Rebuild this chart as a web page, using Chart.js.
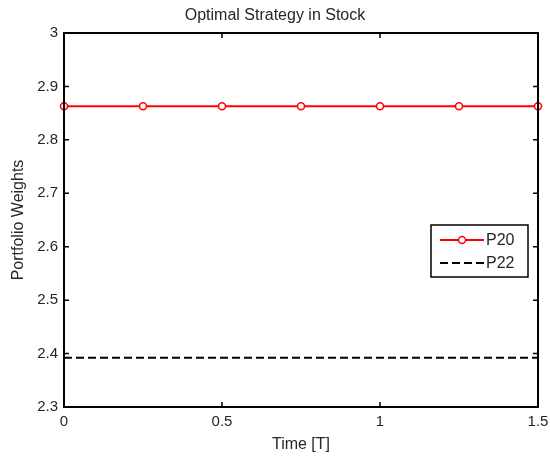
<!DOCTYPE html>
<html lang="en">
<head>
    <meta charset="UTF-8">
    <title>Optimal Strategy in Stock</title>
    <script src="https://cdn.jsdelivr.net/npm/chart.js"></script>
    <style>
        html, body { margin: 0; padding: 0; background: #fff; }
        #wrap { width: 550px; height: 458px; }
    </style>
</head>
<body>
    <div id="wrap"><canvas id="stockChart" width="550" height="458"></canvas></div>
    <script>
        const timeP20 = [0, 0.25, 0.5, 0.75, 1, 1.25, 1.5];
        const valuesP20 = [2.863, 2.863, 2.863, 2.863, 2.863, 2.863, 2.863];
        const timeP22 = [0, 1.5];
        const valuesP22 = [2.392, 2.392];
        const xTicks = [0, 0.5, 1, 1.5];
        const yTicks = [2.3, 2.4, 2.5, 2.6, 2.7, 2.8, 2.9, 3];

        const font = 'Arial, "Liberation Sans", sans-serif';

        // matlab style box, inward ticks and boxed legend
        const matlabBox = {
            id: 'matlabBox',
            afterDraw(chart) {
                const ctx = chart.ctx;
                const a = chart.chartArea;
                const xs = chart.scales.x, ys = chart.scales.y;
                ctx.save();
                ctx.strokeStyle = '#000';
                ctx.lineWidth = 2;
                ctx.strokeRect(a.left, a.top, a.right - a.left, a.bottom - a.top);
                ctx.lineWidth = 1.5;
                ctx.beginPath();
                xTicks.forEach(v => {
                    const px = xs.getPixelForValue(v);
                    ctx.moveTo(px, a.bottom); ctx.lineTo(px, a.bottom - 5);
                    ctx.moveTo(px, a.top); ctx.lineTo(px, a.top + 5);
                });
                yTicks.forEach(v => {
                    const py = ys.getPixelForValue(v);
                    ctx.moveTo(a.left, py); ctx.lineTo(a.left + 5, py);
                    ctx.moveTo(a.right, py); ctx.lineTo(a.right - 5, py);
                });
                ctx.stroke();

                // legend
                const lx = 431, ly = 225, lw = 97, lh = 52;
                ctx.fillStyle = '#fff';
                ctx.fillRect(lx, ly, lw, lh);
                ctx.lineWidth = 1.5;
                ctx.strokeRect(lx, ly, lw, lh);
                const ds = chart.data.datasets;
                const rows = [ly + 15, ly + 38];
                ds.forEach((d, i) => {
                    const y = rows[i];
                    ctx.beginPath();
                    ctx.strokeStyle = d.borderColor;
                    ctx.lineWidth = d.borderWidth;
                    ctx.setLineDash(d.borderDash || []);
                    ctx.moveTo(lx + 9, y); ctx.lineTo(lx + 53, y);
                    ctx.stroke();
                    ctx.setLineDash([]);
                    if (d.pointRadius > 0) {
                        ctx.beginPath();
                        ctx.fillStyle = '#fff';
                        ctx.lineWidth = d.pointBorderWidth;
                        ctx.arc(lx + 31, y, 3.5, 0, Math.PI * 2);
                        ctx.fill(); ctx.stroke();
                    }
                    ctx.fillStyle = '#262626';
                    ctx.font = '16px ' + font;
                    ctx.textBaseline = 'middle';
                    ctx.textAlign = 'left';
                    ctx.fillText(d.label, lx + 55, y + 1);
                });
                ctx.restore();
            }
        };

        new Chart(document.getElementById('stockChart').getContext('2d'), {
            type: 'line',
            data: {
                datasets: [{
                    label: 'P20',
                    data: timeP20.map((t, i) => ({ x: t, y: valuesP20[i] })),
                    borderColor: '#ff0000',
                    borderWidth: 2,
                    pointRadius: 3.5,
                    pointBorderWidth: 1.5,
                    pointBorderColor: '#ff0000',
                    pointBackgroundColor: '#fff',
                    clip: false
                }, {
                    label: 'P22',
                    data: timeP22.map((t, i) => ({ x: t, y: valuesP22[i] })),
                    borderColor: '#000',
                    borderWidth: 2,
                    borderDash: [8, 4],
                    pointRadius: 0
                }]
            },
            options: {
                responsive: false,
                animation: false,
                layout: { padding: { left: 0, right: 0, top: 0, bottom: 0 } },
                plugins: {
                    legend: { display: false },
                    tooltip: { enabled: false },
                    title: {
                        display: true,
                        text: 'Optimal Strategy in Stock',
                        color: '#262626',
                        font: { family: font, size: 16, weight: 'normal' },
                        padding: { top: 6, bottom: 7.8 }
                    }
                },
                scales: {
                    x: {
                        type: 'linear',
                        min: 0, max: 1.5,
                        afterBuildTicks: s => { s.ticks = xTicks.map(v => ({ value: v })); },
                        afterFit: s => { s.height = 51; s.paddingRight = 12; s.paddingLeft = 0; },
                        grid: { display: false, drawTicks: false },
                        border: { display: false },
                        ticks: { color: '#262626', padding: 6, font: { family: font, size: 15 }, callback: v => String(v) },
                        title: { display: true, text: 'Time [T]', color: '#262626', padding: { top: 1 }, font: { family: font, size: 16 } }
                    },
                    y: {
                        min: 2.3, max: 3,
                        afterBuildTicks: s => { s.ticks = yTicks.map(v => ({ value: v })); },
                        afterFit: s => { s.width = 64; },
                        grid: { display: false, drawTicks: false },
                        border: { display: false },
                        ticks: { color: '#262626', padding: 6, font: { family: font, size: 15 }, callback: v => String(Math.round(v * 10) / 10) },
                        title: { display: true, text: 'Portfolio Weights', color: '#262626', padding: { top: 9, bottom: 0 }, font: { family: font, size: 16 } }
                    }
                }
            },
            plugins: [matlabBox]
        });
    </script>
</body>
</html>
